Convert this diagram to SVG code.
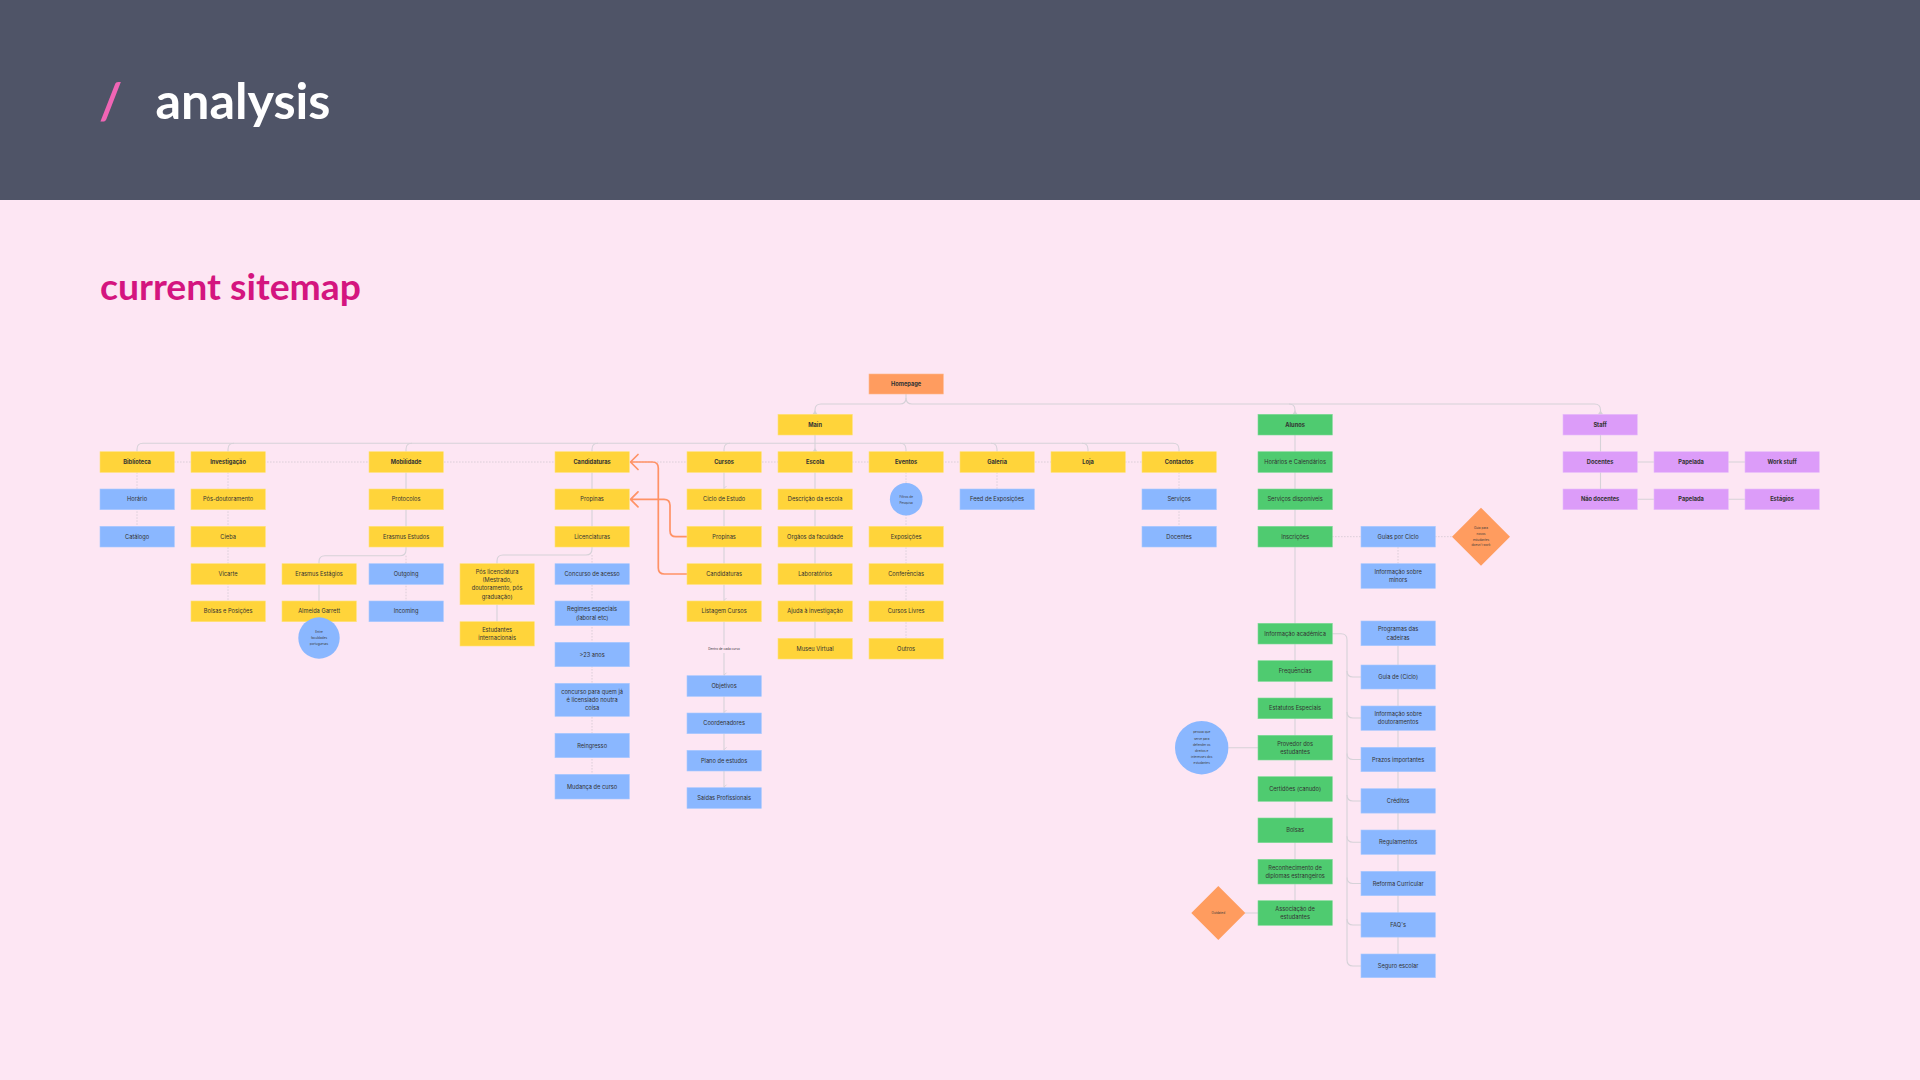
<svg xmlns="http://www.w3.org/2000/svg" width="1920" height="1080" viewBox="0 0 1920 1080">
<defs>
<style>
.bg{fill:#fde6f3}
.hd{fill:#4f5467}
rect.y{fill:#ffd43a;stroke:#ffe27a;stroke-width:0.6}
rect.b{fill:#8ab7ff;stroke:#a9c9ff;stroke-width:0.6}
rect.g{fill:#4fcb70;stroke:#7edb96;stroke-width:0.6}
rect.p{fill:#dc9cf9;stroke:#e8bdfb;stroke-width:0.6}
rect.o{fill:#ff9c5f;stroke:#ffb88c;stroke-width:0.6}
.cb{fill:#8ab7ff}
.do{fill:#ff9c5f}
text.t{font-family:Inter,"Liberation Sans",sans-serif;font-size:5.7px;fill:#333333;text-anchor:middle}
text.h{font-weight:700}
text.s{font-family:Inter,"Liberation Sans",sans-serif;font-size:3.1px;fill:#3a3a3a;text-anchor:middle}
.ln{fill:none;stroke:#d6d2d8;stroke-width:1.1}
.dt{fill:none;stroke:#d8ccd6;stroke-width:0.9;stroke-dasharray:1.6 1.4}
.or{fill:none;stroke:#ff9266;stroke-width:1.7;stroke-linecap:round;stroke-linejoin:round}
.ah{fill:#d6d2d8}
</style>
<marker id="ga" markerWidth="6" markerHeight="6" refX="3" refY="5" orient="auto" markerUnits="userSpaceOnUse"><path d="M0.5,2.5 L3,5 L5.5,2.5" fill="none" stroke="#cfcbd2" stroke-width="0.8"/></marker>
</defs>
<rect class="bg" x="0" y="0" width="1920" height="1080"/>
<rect class="hd" x="0" y="0" width="1920" height="200"/>
<text x="99" y="119" font-family="Lato,'Open Sans',sans-serif" font-weight="700" font-size="50" fill="#f065b5">/</text>
<text x="155.5" y="119" font-family="Lato,'Open Sans',sans-serif" font-weight="700" font-size="50" fill="#ffffff" textLength="175" lengthAdjust="spacingAndGlyphs">analysis</text>
<text x="100" y="300" font-family="Lato,'Open Sans',sans-serif" font-weight="700" font-size="36" fill="#d4157f" textLength="261" lengthAdjust="spacingAndGlyphs">current sitemap</text>

<g id="connectors">
<path class="dt" d="M174,462 H1142"/>
<path class="ln" d="M906,394 v4 q0,6 -6,6 H821 q-6,0 -6,6 v4.3"/>
<path class="ln" d="M906,398 q0,6 6,6 H1289 q6,0 6,6 v4.3"/>
<path class="ln" d="M1289,404 H1594.5 q6,0 6,6 v4.3"/>
<path class="ln" d="M815,435 V451.7"/>
<path class="ln" d="M143,443.3 H1173"/>
<path class="ln" d="M143,443.3 q-6,0 -6,6 v2.4 M234,443.3 q-6,0 -6,6 v2.4 M412,443.3 q-6,0 -6,6 v2.4 M598,443.3 q-6,0 -6,6 v2.4 M730,443.3 q-6,0 -6,6 v2.4"/>
<path class="ln" d="M900,443.3 q6,0 6,6 v2.4 M991,443.3 q6,0 6,6 v2.4 M1082,443.3 q6,0 6,6 v2.4 M1173,443.3 q6,0 6,6 v2.4"/>
<polygon class="ah" points="812.5,414.3 817.5,414.3 815,410.5"/>
<polygon class="ah" points="812.5,451.7 817.5,451.7 815,447.9"/>
<polygon class="ah" points="1292.5,414.3 1297.5,414.3 1295,410.5"/>
<polygon class="ah" points="1598,414.3 1603,414.3 1600.5,410.5"/>
<path class="dt" d="M137,472.3 V526.3"/>
<path class="dt" d="M228,472.3 V601"/>
<path class="ln" d="M406,472.3 V549.7 q0,6 -6,6 H325 q-6,0 -6,6 v2"/>
<path class="dt" d="M406,555.7 V601"/>
<path class="ln" d="M319,584.5 V601"/>
<path class="ln" d="M592,472.3 V549 q0,6 -6,6 H503 q-6,0 -6,6 v2.7"/>
<path class="dt" d="M592,555 V774.3"/>
<path class="ln" d="M497,604.7 V621.7"/>
<path class="ln" d="M724,472.3 V488.5" marker-end="url(#ga)"/>
<path class="ln" d="M724,509.7 V526.3 M724,547 V563.7"/>
<path class="ln" d="M724,584.4 V600.5" marker-end="url(#ga)"/>
<path class="ln" d="M724,621.7 V645"/>
<path class="ln" d="M724,653 V675.2" marker-end="url(#ga)"/>
<path class="ln" d="M724,696.4 V712.5" marker-end="url(#ga)"/>
<path class="ln" d="M724,733.7 V749.8" marker-end="url(#ga)"/>
<path class="ln" d="M724,771 V787.2" marker-end="url(#ga)"/>
<path class="ln" d="M815,472.3 V638.3"/>
<path class="dt" d="M906,472.3 V638.3"/>
<path class="dt" d="M997,472.3 V489"/>
<path class="dt" d="M1179,472.3 V526.3"/>
<path class="ln" d="M1295,435 V900.7"/>
<path class="dt" d="M1332,536.7 H1361 M1435,536.7 H1452 M1398,547 V563.7"/>
<path class="ln" d="M1332,633.7 H1341 q6,0 6,6 V960 q0,6 6,6 H1361"/>
<path class="ln" d="M1347,671 q0,6 6,6 H1361 M1347,712 q0,6 6,6 H1361 M1347,753.5 q0,6 6,6 H1361 M1347,795 q0,6 6,6 H1361 M1347,836.3 q0,6 6,6 H1361 M1347,877.5 q0,6 6,6 H1361 M1347,919 q0,6 6,6 H1361"/>
<path class="ln" d="M1398,645.7 V954"/>
<path class="ln" d="M1228.4,747.7 H1258 M1245,913 H1258"/>
<path class="ln" d="M1600.5,435 V489 M1637.5,462 H1745 M1637.5,499.3 H1745"/>
<path class="or" d="M687,536.7 H676 q-6,0 -6,-6 V505.3 q0,-6 -6,-6 H630.5 M638,491.8 L630.5,499.3 L638,506.8"/>
<path class="or" d="M687,574 H664.3 q-6,0 -6,-6 V468 q0,-6 -6,-6 H630.5 M638,454.5 L630.5,462 L638,469.5"/>
</g>

<g id="n-homepage"><rect class="o" x="869" y="374" width="74.3" height="20"/><text class="t h" x="906.1" y="386">Homepage</text></g>
<g id="n-main"><rect class="y" x="778" y="414.3" width="74.3" height="20.7"/><text class="t h" x="815.1" y="426.7">Main</text></g>
<g id="n-alunos"><rect class="g" x="1258" y="414.3" width="74.3" height="20.7"/><text class="t h" x="1295.1" y="426.7">Alunos</text></g>
<g id="n-staff"><rect class="p" x="1563" y="414.3" width="74.3" height="20.7"/><text class="t h" x="1600.1" y="426.7">Staff</text></g>

<g id="n-biblioteca"><rect class="y" x="100" y="451.7" width="74.3" height="20.7"/><text class="t h" x="137.1" y="464">Biblioteca</text></g>
<g id="n-investigacao"><rect class="y" x="191" y="451.7" width="74.3" height="20.7"/><text class="t h" x="228.1" y="464">Investigação</text></g>
<g id="n-mobilidade"><rect class="y" x="369" y="451.7" width="74.3" height="20.7"/><text class="t h" x="406.1" y="464">Mobilidade</text></g>
<g id="n-candidaturas"><rect class="y" x="555" y="451.7" width="74.3" height="20.7"/><text class="t h" x="592.1" y="464">Candidaturas</text></g>
<g id="n-cursos"><rect class="y" x="687" y="451.7" width="74.3" height="20.7"/><text class="t h" x="724.1" y="464">Cursos</text></g>
<g id="n-escola"><rect class="y" x="778" y="451.7" width="74.3" height="20.7"/><text class="t h" x="815.1" y="464">Escola</text></g>
<g id="n-eventos"><rect class="y" x="869" y="451.7" width="74.3" height="20.7"/><text class="t h" x="906.1" y="464">Eventos</text></g>
<g id="n-galeria"><rect class="y" x="960" y="451.7" width="74.3" height="20.7"/><text class="t h" x="997.1" y="464">Galeria</text></g>
<g id="n-loja"><rect class="y" x="1051" y="451.7" width="74.3" height="20.7"/><text class="t h" x="1088.1" y="464">Loja</text></g>
<g id="n-contactos"><rect class="y" x="1142" y="451.7" width="74.3" height="20.7"/><text class="t h" x="1179.1" y="464">Contactos</text></g>
<g id="n-horarios-cal"><rect class="g" x="1258" y="451.7" width="74.3" height="20.7"/><text class="t" x="1295.1" y="464">Horários e Calendários</text></g>
<g id="n-docentes-staff"><rect class="p" x="1563" y="451.7" width="74.3" height="20.7"/><text class="t h" x="1600.1" y="464">Docentes</text></g>
<g id="n-papelada1"><rect class="p" x="1654" y="451.7" width="74.3" height="20.7"/><text class="t h" x="1691.1" y="464">Papelada</text></g>
<g id="n-workstuff"><rect class="p" x="1745" y="451.7" width="74.3" height="20.7"/><text class="t h" x="1782.1" y="464">Work stuff</text></g>

<g id="n-horario"><rect class="b" x="100" y="489" width="74.3" height="20.7"/><text class="t" x="137.1" y="501.3">Horário</text></g>
<g id="n-posdout"><rect class="y" x="191" y="489" width="74.3" height="20.7"/><text class="t" x="228.1" y="501.3">Pós-doutoramento</text></g>
<g id="n-protocolos"><rect class="y" x="369" y="489" width="74.3" height="20.7"/><text class="t" x="406.1" y="501.3">Protocolos</text></g>
<g id="n-propinas-c"><rect class="y" x="555" y="489" width="74.3" height="20.7"/><text class="t" x="592.1" y="501.3">Propinas</text></g>
<g id="n-ciclo"><rect class="y" x="687" y="489" width="74.3" height="20.7"/><text class="t" x="724.1" y="501.3">Ciclo de Estudo</text></g>
<g id="n-descricao"><rect class="y" x="778" y="489" width="74.3" height="20.7"/><text class="t" x="815.1" y="501.3">Descrição da escola</text></g>
<g id="n-filtros"><circle class="cb" cx="906.2" cy="499.3" r="16.3"/><text class="s" x="906.2" y="498.3">Filtros de</text><text class="s" x="906.2" y="503.6">Pesquisa</text></g>
<g id="n-feed"><rect class="b" x="960" y="489" width="74.3" height="20.7"/><text class="t" x="997.1" y="501.3">Feed de Exposições</text></g>
<g id="n-servicos"><rect class="b" x="1142" y="489" width="74.3" height="20.7"/><text class="t" x="1179.1" y="501.3">Serviços</text></g>
<g id="n-servicos-disp"><rect class="g" x="1258" y="489" width="74.3" height="20.7"/><text class="t" x="1295.1" y="501.3">Serviços disponíveis</text></g>
<g id="n-naodocentes"><rect class="p" x="1563" y="489" width="74.3" height="20.7"/><text class="t h" x="1600.1" y="501.3">Não docentes</text></g>
<g id="n-papelada2"><rect class="p" x="1654" y="489" width="74.3" height="20.7"/><text class="t h" x="1691.1" y="501.3">Papelada</text></g>
<g id="n-estagios"><rect class="p" x="1745" y="489" width="74.3" height="20.7"/><text class="t h" x="1782.1" y="501.3">Estágios</text></g>

<g id="n-catalogo"><rect class="b" x="100" y="526.3" width="74.3" height="20.7"/><text class="t" x="137.1" y="538.6">Catálogo</text></g>
<g id="n-cieba"><rect class="y" x="191" y="526.3" width="74.3" height="20.7"/><text class="t" x="228.1" y="538.6">Cieba</text></g>
<g id="n-erasmus-est"><rect class="y" x="369" y="526.3" width="74.3" height="20.7"/><text class="t" x="406.1" y="538.6">Erasmus Estudos</text></g>
<g id="n-licenciaturas"><rect class="y" x="555" y="526.3" width="74.3" height="20.7"/><text class="t" x="592.1" y="538.6">Licenciaturas</text></g>
<g id="n-propinas-cur"><rect class="y" x="687" y="526.3" width="74.3" height="20.7"/><text class="t" x="724.1" y="538.6">Propinas</text></g>
<g id="n-orgaos"><rect class="y" x="778" y="526.3" width="74.3" height="20.7"/><text class="t" x="815.1" y="538.6">Orgãos da faculdade</text></g>
<g id="n-exposicoes"><rect class="y" x="869" y="526.3" width="74.3" height="20.7"/><text class="t" x="906.1" y="538.6">Exposições</text></g>
<g id="n-docentes-c"><rect class="b" x="1142" y="526.3" width="74.3" height="20.7"/><text class="t" x="1179.1" y="538.6">Docentes</text></g>
<g id="n-inscricoes"><rect class="g" x="1258" y="526.3" width="74.3" height="20.7"/><text class="t" x="1295.1" y="538.6">Inscrições</text></g>
<g id="n-guias"><rect class="b" x="1361" y="526.3" width="74.3" height="20.7"/><text class="t" x="1398.1" y="538.6">Guias por Ciclo</text></g>
<g id="n-guia-diamond"><polygon class="do" points="1481,507.7 1510,536.7 1481,565.7 1452,536.7"/><text class="s" x="1481" y="529.4">Guia para</text><text class="s" x="1481" y="535">novos</text><text class="s" x="1481" y="540.6">estudantes</text><text class="s" x="1481" y="546.2">doesn't work</text></g>

<g id="n-vicarte"><rect class="y" x="191" y="563.7" width="74.3" height="20.7"/><text class="t" x="228.1" y="576">Vicarte</text></g>
<g id="n-erasmus-estag"><rect class="y" x="282" y="563.7" width="74.3" height="20.7"/><text class="t" x="319.1" y="576">Erasmus Estágios</text></g>
<g id="n-outgoing"><rect class="b" x="369" y="563.7" width="74.3" height="20.7"/><text class="t" x="406.1" y="576">Outgoing</text></g>
<g id="n-poslic"><rect class="y" x="460" y="563.7" width="74.3" height="41"/><text class="t" x="497.1" y="573.8">Pós licenciatura</text><text class="t" x="497.1" y="582">(Mestrado,</text><text class="t" x="497.1" y="590.3">doutoramento, pós</text><text class="t" x="497.1" y="598.5">graduação)</text></g>
<g id="n-concurso"><rect class="b" x="555" y="563.7" width="74.3" height="20.7"/><text class="t" x="592.1" y="576">Concurso de acesso</text></g>
<g id="n-candidaturas-cur"><rect class="y" x="687" y="563.7" width="74.3" height="20.7"/><text class="t" x="724.1" y="576">Candidaturas</text></g>
<g id="n-laboratorios"><rect class="y" x="778" y="563.7" width="74.3" height="20.7"/><text class="t" x="815.1" y="576">Laboratórios</text></g>
<g id="n-conferencias"><rect class="y" x="869" y="563.7" width="74.3" height="20.7"/><text class="t" x="906.1" y="576">Conferências</text></g>
<g id="n-minors"><rect class="b" x="1361" y="563.7" width="74.3" height="24.6"/><text class="t" x="1398.1" y="574.1">Informação sobre</text><text class="t" x="1398.1" y="582.3">minors</text></g>

<g id="n-bolsas-pos"><rect class="y" x="191" y="601" width="74.3" height="20.7"/><text class="t" x="228.1" y="613.3">Bolsas e Posições</text></g>
<g id="n-almeida"><rect class="y" x="282" y="601" width="74.3" height="20.7"/><text class="t" x="319.1" y="613.3">Almeida Garrett</text></g>
<g id="n-entre"><circle class="cb" cx="319" cy="638" r="20.7"/><text class="s" x="319" y="633">Entre</text><text class="s" x="319" y="639.1">faculdades</text><text class="s" x="319" y="645.2">portuguesas</text></g>
<g id="n-incoming"><rect class="b" x="369" y="601" width="74.3" height="20.7"/><text class="t" x="406.1" y="613.3">Incoming</text></g>
<g id="n-estudantes-int"><rect class="y" x="460" y="621.7" width="74.3" height="24.3"/><text class="t" x="497.1" y="631.8">Estudantes</text><text class="t" x="497.1" y="640">internacionais</text></g>
<g id="n-regimes"><rect class="b" x="555" y="601" width="74.3" height="24.7"/><text class="t" x="592.1" y="611.3">Regimes especiais</text><text class="t" x="592.1" y="619.5">(laboral etc)</text></g>
<g id="n-listagem"><rect class="y" x="687" y="601" width="74.3" height="20.7"/><text class="t" x="724.1" y="613.3">Listagem Cursos</text></g>
<g id="n-ajuda"><rect class="y" x="778" y="601" width="74.3" height="20.7"/><text class="t" x="815.1" y="613.3">Ajuda à investigação</text></g>
<g id="n-cursos-livres"><rect class="y" x="869" y="601" width="74.3" height="20.7"/><text class="t" x="906.1" y="613.3">Cursos Livres</text></g>

<g id="n-museu"><rect class="y" x="778" y="638.3" width="74.3" height="20.7"/><text class="t" x="815.1" y="650.6">Museu Virtual</text></g>
<g id="n-outros"><rect class="y" x="869" y="638.3" width="74.3" height="20.7"/><text class="t" x="906.1" y="650.6">Outros</text></g>
<g id="n-dentro"><text class="s" x="724" y="650.3">Dentro de cada curso</text></g>

<g id="n-23anos"><rect class="b" x="555" y="642.3" width="74.3" height="24.4"/><text class="t" x="592.1" y="656.5">&gt;23 anos</text></g>
<g id="n-concurso-lic"><rect class="b" x="555" y="683.3" width="74.3" height="33"/><text class="t" x="592.1" y="694">concurso para quem já</text><text class="t" x="592.1" y="702.2">é licensiado noutra</text><text class="t" x="592.1" y="710.4">coisa</text></g>
<g id="n-reingresso"><rect class="b" x="555" y="733.3" width="74.3" height="24.4"/><text class="t" x="592.1" y="747.5">Reingresso</text></g>
<g id="n-mudanca"><rect class="b" x="555" y="774.3" width="74.3" height="24.7"/><text class="t" x="592.1" y="788.6">Mudança de curso</text></g>

<g id="n-objetivos"><rect class="b" x="687" y="675.7" width="74.3" height="20.7"/><text class="t" x="724.1" y="688">Objetivos</text></g>
<g id="n-coordenadores"><rect class="b" x="687" y="713" width="74.3" height="20.7"/><text class="t" x="724.1" y="725.3">Coordenadores</text></g>
<g id="n-plano"><rect class="b" x="687" y="750.3" width="74.3" height="20.7"/><text class="t" x="724.1" y="762.6">Plano de estudos</text></g>
<g id="n-saidas"><rect class="b" x="687" y="787.7" width="74.3" height="20.7"/><text class="t" x="724.1" y="800">Saídas Profissionais</text></g>

<g id="n-info-acad"><rect class="g" x="1258" y="623.3" width="74.3" height="20.7"/><text class="t" x="1295.1" y="635.6">Informação académica</text></g>
<g id="n-frequencias"><rect class="g" x="1258" y="660.7" width="74.3" height="20.7"/><text class="t" x="1295.1" y="673">Frequências</text></g>
<g id="n-estatutos"><rect class="g" x="1258" y="698" width="74.3" height="20.7"/><text class="t" x="1295.1" y="710.3">Estatutos Especiais</text></g>
<g id="n-provedor"><rect class="g" x="1258" y="735.3" width="74.3" height="24.7"/><text class="t" x="1295.1" y="745.6">Provedor dos</text><text class="t" x="1295.1" y="753.8">estudantes</text></g>
<g id="n-pessoa"><circle class="cb" cx="1201.7" cy="747.7" r="26.7"/><text class="s" x="1201.7" y="733.4">pessoa que</text><text class="s" x="1201.7" y="739.6">serve para</text><text class="s" x="1201.7" y="745.8">defender os</text><text class="s" x="1201.7" y="752">direitos e</text><text class="s" x="1201.7" y="758.2">interesses dos</text><text class="s" x="1201.7" y="764.4">estudantes</text></g>
<g id="n-certidoes"><rect class="g" x="1258" y="776.7" width="74.3" height="24.6"/><text class="t" x="1295.1" y="791">Certidões (canudo)</text></g>
<g id="n-bolsas"><rect class="g" x="1258" y="818" width="74.3" height="24.7"/><text class="t" x="1295.1" y="832.3">Bolsas</text></g>
<g id="n-reconhecimento"><rect class="g" x="1258" y="859.3" width="74.3" height="24.7"/><text class="t" x="1295.1" y="869.6">Reconhecimento de</text><text class="t" x="1295.1" y="877.8">diplomas estrangeiros</text></g>
<g id="n-associacao"><rect class="g" x="1258" y="900.7" width="74.3" height="24.6"/><text class="t" x="1295.1" y="911">Associação de</text><text class="t" x="1295.1" y="919.2">estudantes</text></g>
<g id="n-outdated"><polygon class="do" points="1218.3,886 1245.3,913 1218.3,940 1191.3,913"/><text class="s" x="1218.3" y="914.1">Outdated</text></g>

<g id="n-programas"><rect class="b" x="1361" y="621" width="74.3" height="24.7"/><text class="t" x="1398.1" y="631.3">Programas das</text><text class="t" x="1398.1" y="639.5">cadeiras</text></g>
<g id="n-guia-ciclo"><rect class="b" x="1361" y="665" width="74.3" height="24"/><text class="t" x="1398.1" y="679">Guia de (Ciclo)</text></g>
<g id="n-info-dout"><rect class="b" x="1361" y="706" width="74.3" height="24.3"/><text class="t" x="1398.1" y="716.2">Informação sobre</text><text class="t" x="1398.1" y="724.4">doutoramentos</text></g>
<g id="n-prazos"><rect class="b" x="1361" y="747.3" width="74.3" height="24.4"/><text class="t" x="1398.1" y="761.5">Prazos importantes</text></g>
<g id="n-creditos"><rect class="b" x="1361" y="788.7" width="74.3" height="24.4"/><text class="t" x="1398.1" y="802.9">Créditos</text></g>
<g id="n-regulamentos"><rect class="b" x="1361" y="830" width="74.3" height="24.4"/><text class="t" x="1398.1" y="844.2">Regulamentos</text></g>
<g id="n-reforma"><rect class="b" x="1361" y="871.3" width="74.3" height="24.4"/><text class="t" x="1398.1" y="885.5">Reforma Curricular</text></g>
<g id="n-faqs"><rect class="b" x="1361" y="912.7" width="74.3" height="24.4"/><text class="t" x="1398.1" y="926.9">FAQ's</text></g>
<g id="n-seguro"><rect class="b" x="1361" y="954" width="74.3" height="23.7"/><text class="t" x="1398.1" y="967.8">Seguro escolar</text></g>
</svg>
